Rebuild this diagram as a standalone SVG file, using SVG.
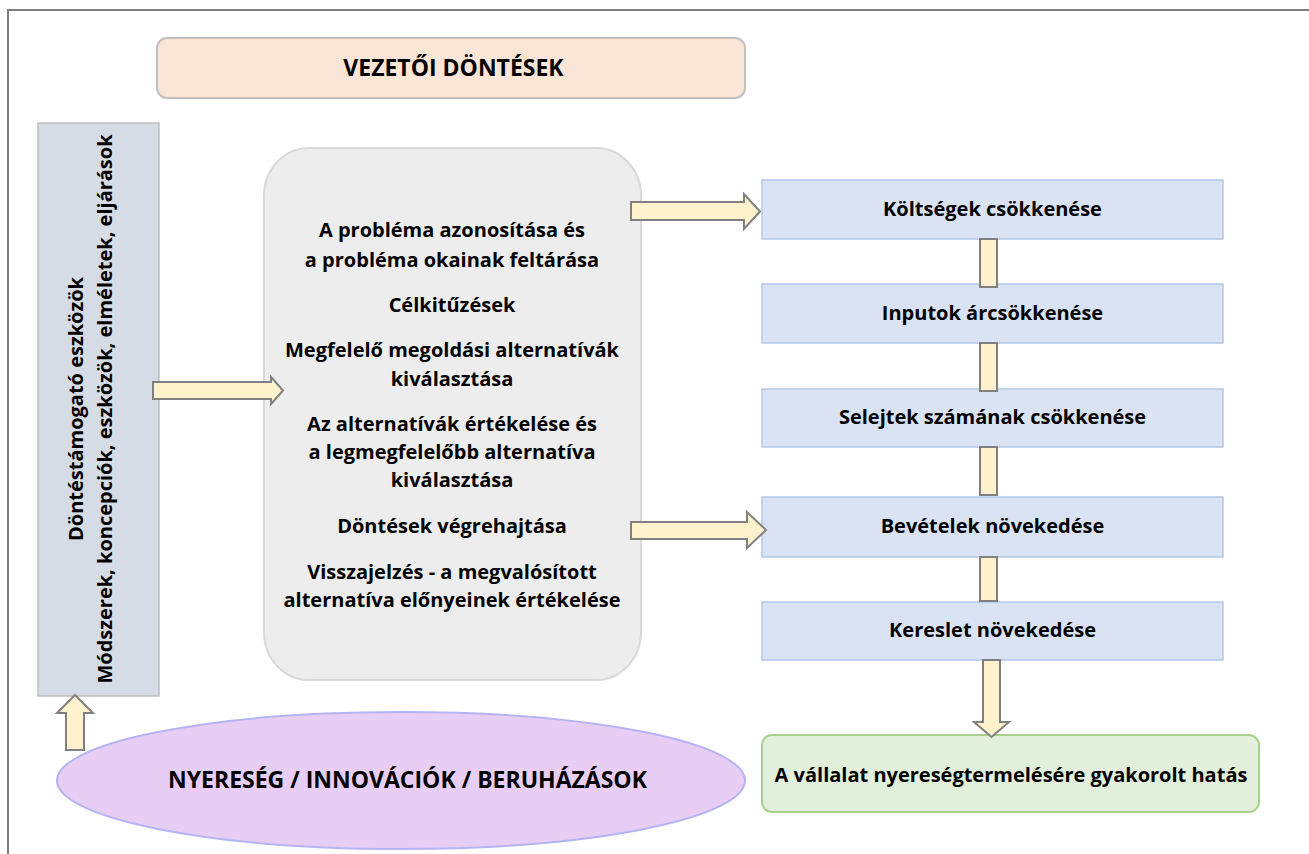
<svg xmlns="http://www.w3.org/2000/svg" width="1309" height="854" viewBox="0 0 1309 854">
<style>
.t{font-family:"Open Sans","Liberation Sans",sans-serif;font-weight:700;font-size:20px;text-anchor:middle;fill:#000}
.big{font-size:23px}
.blue{fill:#dae3f3;stroke:#b4c7e7;stroke-width:1.5}
.arr{fill:#fff2cc;stroke:#808080;stroke-width:2;stroke-linejoin:miter}
</style>
<rect width="1309" height="854" fill="#fff"/>
<path d="M8,854 V10 H1309" fill="none" stroke="#7f7f7f" stroke-width="2"/>

<g id="vezetoi">
<rect x="157" y="38" width="588" height="60" rx="10" fill="#fbe5d6" stroke="#c0c0c0" stroke-width="2"/>
<text class="t big" x="453.5" y="76">VEZETŐI DÖNTÉSEK</text>
</g>

<g id="eszkozok">
<rect x="38" y="123" width="121" height="573" fill="#d6dce5" stroke="#bfbfbf" stroke-width="1.5"/>
<text class="t" transform="translate(83,409) rotate(-90)">Döntéstámogató eszközök</text>
<text class="t" transform="translate(112,409) rotate(-90)">Módszerek, koncepciók, eszközök, elméletek, eljárások</text>
</g>

<g id="folyamat">
<rect x="264" y="148" width="377" height="532" rx="45" ry="48" fill="#ededed" stroke="#d9d9d9" stroke-width="2"/>
<text class="t" x="452" y="237">A probléma azonosítása és</text>
<text class="t" x="452" y="267">a probléma okainak feltárása</text>
<text class="t" x="452" y="312">Célkitűzések</text>
<text class="t" x="452" y="357">Megfelelő megoldási alternatívák</text>
<text class="t" x="452" y="386">kiválasztása</text>
<text class="t" x="452" y="431">Az alternatívák értékelése és</text>
<text class="t" x="452" y="459">a legmegfelelőbb alternatíva</text>
<text class="t" x="452" y="487">kiválasztása</text>
<text class="t" x="452" y="533">Döntések végrehajtása</text>
<text class="t" x="452" y="579">Visszajelzés - a megvalósított</text>
<text class="t" x="452" y="607">alternatíva előnyeinek értékelése</text>
</g>

<g id="koltsegek">
<rect class="blue" x="762" y="180" width="461" height="59"/>
<text class="t" x="992.5" y="215.5">Költségek csökkenése</text>
</g>
<g id="inputok">
<rect class="blue" x="762" y="284" width="461" height="59"/>
<text class="t" x="992.5" y="319.5">Inputok árcsökkenése</text>
</g>
<g id="selejtek">
<rect class="blue" x="762" y="389" width="461" height="58"/>
<text class="t" x="992.5" y="424">Selejtek számának csökkenése</text>
</g>
<g id="bevetelek">
<rect class="blue" x="762" y="497" width="461" height="60"/>
<text class="t" x="992.5" y="532.5">Bevételek növekedése</text>
</g>
<g id="kereslet">
<rect class="blue" x="762" y="602" width="461" height="58"/>
<text class="t" x="992.5" y="637">Kereslet növekedése</text>
</g>

<g id="hatas">
<rect x="762" y="735" width="497" height="77" rx="10" fill="#e2efda" stroke="#a9d18e" stroke-width="2"/>
<text class="t" x="1011" y="782">A vállalat nyereségtermelésére gyakorolt hatás</text>
</g>

<g id="nyereseg">
<ellipse cx="401" cy="780.5" rx="344" ry="68.5" fill="#e8cef5" stroke="#b4b4f5" stroke-width="2"/>
<text class="t big" x="407.5" y="788">NYERESÉG / INNOVÁCIÓK / BERUHÁZÁSOK</text>
</g>

<g id="connectors">
<polygon class="arr" points="153,382 271,382 271,377 283,390.5 271,404 271,399 153,399"/>
<polygon class="arr" points="631,202 744,202 744,194 760,211.5 744,229 744,220 631,220"/>
<polygon class="arr" points="631,522 747,522 747,512 766,530 747,548 747,539 631,539"/>
<rect class="arr" x="980" y="239" width="17" height="48"/>
<rect class="arr" x="980" y="343" width="17" height="48"/>
<rect class="arr" x="980" y="447" width="17" height="48"/>
<rect class="arr" x="980" y="557" width="17" height="44"/>
<polygon class="arr" points="983,660 1000,660 1000,722 1009,722 991.5,737 974,722 983,722"/>
<polygon class="arr" points="75,695 93,713 84,713 84,750 66,750 66,713 57,713"/>
</g>
</svg>
